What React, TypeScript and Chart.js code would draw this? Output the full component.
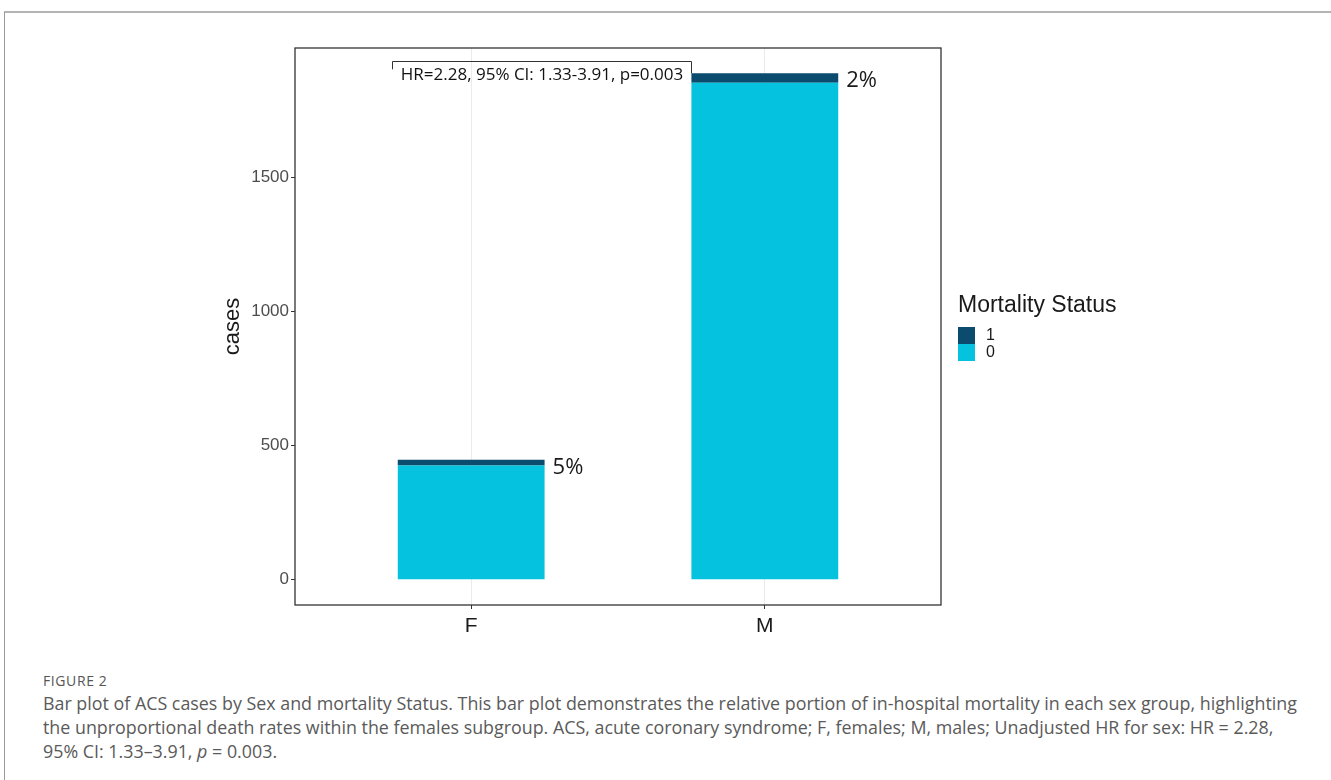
import React, { useEffect, useRef } from 'react';
import { Chart, registerables } from 'chart.js';

Chart.register(...registerables);

// Case counts by sex, split by in-hospital mortality status
const sexGroups = ['F', 'M'];
const aliveCases = [426, 1855]; // Mortality Status = 0
const deathCases = [22, 35]; // Mortality Status = 1
const statusNames = ['0', '1'];
const statusColors = ['#05C3DE', '#0A4B6E'];
const legendOrder = [1, 0];
const yTickValues = [0, 500, 1000, 1500];

// Significance bracket between the two groups
const hrText = 'HR=2.28, 95% CI: 1.33-3.91, p=0.003';
const bracketSpan = [0.73, 1.75];
const bracketLevel = 1935;
const bracketLeftDrop = 1905;

const totals = sexGroups.map((_, i) => aliveCases[i] + deathCases[i]);
const maxTotal = Math.max(...totals);

const SANS = '"Liberation Sans", Arial, sans-serif';
const OPEN = '"Open Sans", "Noto Sans", sans-serif';

const overlayPlugin = {
  id: 'overlay',
  afterDatasetsDraw(chart: any) {
    const { ctx, chartArea: a, scales } = chart;
    const x = scales.x;
    const y = scales.y;
    ctx.save();

    // percentage of deaths next to each bar
    const topMeta = chart.getDatasetMeta(1);
    ctx.font = `22px ${OPEN}`;
    ctx.fillStyle = '#1a1a1a';
    ctx.textAlign = 'left';
    ctx.textBaseline = 'alphabetic';
    topMeta.data.forEach((bar: any, i: number) => {
      const pct = Math.round((deathCases[i] / totals[i]) * 100) + '%';
      ctx.fillText(pct, bar.x + bar.width / 2 + 8, bar.y + 14);
    });

    // bracket with hazard ratio text
    const bx0 = Math.round(x.getPixelForValue(bracketSpan[0])) + 0.5;
    const bx1 = Math.round(x.getPixelForValue(bracketSpan[1])) + 0.5;
    const by = Math.round(y.getPixelForValue(bracketLevel)) + 0.5;
    ctx.strokeStyle = '#333333';
    ctx.lineWidth = 1;
    ctx.beginPath();
    ctx.moveTo(bx0, y.getPixelForValue(bracketLeftDrop));
    ctx.lineTo(bx0, by);
    ctx.lineTo(bx1, by);
    ctx.lineTo(bx1, y.getPixelForValue(totals[1]));
    ctx.stroke();
    ctx.font = `17px ${OPEN}`;
    ctx.fillStyle = '#111111';
    ctx.textAlign = 'center';
    ctx.fillText(hrText, (bx0 + bx1) / 2, by + 18);

    // panel border
    ctx.strokeStyle = '#333333';
    ctx.lineWidth = 1.3;
    ctx.strokeRect(a.left, a.top, a.right - a.left, a.bottom - a.top);

    // y axis title
    ctx.save();
    ctx.translate(a.left - 62, (a.top + a.bottom) / 2);
    ctx.rotate(-Math.PI / 2);
    ctx.font = `22px ${SANS}`;
    ctx.fillStyle = '#1a1a1a';
    ctx.textAlign = 'center';
    ctx.textBaseline = 'middle';
    ctx.fillText('cases', 0, 0);
    ctx.restore();

    // legend
    const lx = a.right + 17;
    const ly = a.top + 264;
    ctx.font = `23px ${SANS}`;
    ctx.fillStyle = '#1a1a1a';
    ctx.textAlign = 'left';
    ctx.textBaseline = 'alphabetic';
    ctx.fillText('Mortality Status', lx, ly);
    ctx.font = `16px ${SANS}`;
    ctx.textBaseline = 'middle';
    legendOrder.forEach((idx, k) => {
      const ky = ly + 15 + k * 17;
      ctx.fillStyle = statusColors[idx];
      ctx.fillRect(lx, ky, 17, 17);
      ctx.fillStyle = '#1a1a1a';
      ctx.fillText(statusNames[idx], lx + 28, ky + 9);
    });

    ctx.restore();
  },
};

function BarChart() {
  const ref = useRef<HTMLCanvasElement | null>(null);

  useEffect(() => {
    if (!ref.current) return;
    const chart = new Chart(ref.current, {
      type: 'bar',
      data: {
        datasets: statusNames.map((name, s) => ({
          label: name,
          data: sexGroups.map((_, i) => ({
            x: i + 1,
            y: s === 0 ? aliveCases[i] : deathCases[i],
          })),
          backgroundColor: statusColors[s],
          borderWidth: 0,
          categoryPercentage: 1,
          barPercentage: 0.5,
        })),
      },
      options: {
        responsive: false,
        animation: false,
        layout: { padding: { left: 180, right: 390, top: 48, bottom: 15 } },
        plugins: {
          legend: { display: false },
          tooltip: { enabled: false },
        },
        scales: {
          x: {
            type: 'linear',
            stacked: true,
            offset: false,
            min: 1 - 0.6,
            max: sexGroups.length + 0.6,
            afterBuildTicks: (scale: any) => {
              scale.ticks = sexGroups.map((_, i) => ({ value: i + 1 }));
            },
            afterFit: (scale: any) => {
              scale.height = 40;
            },
            ticks: {
              callback: (v: any) => sexGroups[Math.round(Number(v)) - 1] ?? '',
              font: { family: SANS, size: 21 },
              color: '#1a1a1a',
              padding: 5,
              maxRotation: 0,
              autoSkip: false,
            },
            grid: {
              offset: false,
              color: '#ebebeb',
              lineWidth: 1,
              drawTicks: true,
              tickLength: 4,
              tickColor: '#333333',
            },
            border: { display: false },
          },
          y: {
            type: 'linear',
            stacked: true,
            min: -0.05 * maxTotal,
            max: 1.05 * maxTotal,
            afterBuildTicks: (scale: any) => {
              scale.ticks = yTickValues.map((v) => ({ value: v }));
            },
            afterFit: (scale: any) => {
              scale.width = 115;
            },
            ticks: {
              callback: (v: any) => String(v),
              font: { family: SANS, size: 17 },
              color: '#4d4d4d',
              padding: 2,
            },
            grid: {
              drawOnChartArea: false,
              drawTicks: true,
              tickLength: 4,
              tickColor: '#333333',
            },
            border: { display: false },
          },
        },
      },
      plugins: [overlayPlugin],
    } as any);
    return () => chart.destroy();
  }, []);

  return (
    <canvas
      ref={ref}
      width={1331}
      height={660}
      style={{ position: 'absolute', left: 0, top: 0, width: 1331, height: 660 }}
    />
  );
}

export default function App() {
  const captionLine: React.CSSProperties = {
    position: 'absolute',
    left: 43,
    whiteSpace: 'nowrap',
    fontFamily: OPEN,
    fontSize: 17.85,
    lineHeight: '24px',
    color: '#5a5a5a',
  };
  return (
    <div
      style={{
        position: 'absolute',
        left: 0,
        top: 0,
        width: 1331,
        height: 780,
        background: '#ffffff',
        overflow: 'hidden',
      }}
    >
      <div style={{ position: 'absolute', left: 4, top: 11, width: 1327, height: 2, background: '#b3b3b3' }} />
      <div style={{ position: 'absolute', left: 4, top: 12, width: 1, height: 768, background: '#9a9a9a' }} />
      <BarChart />
      <div
        style={{
          position: 'absolute',
          left: 43,
          top: 671,
          fontFamily: OPEN,
          fontSize: 14,
          color: '#555555',
          letterSpacing: 0.6,
        }}
      >
        FIGURE 2
      </div>
      <div style={{ ...captionLine, top: 691 }}>
        Bar plot of ACS cases by Sex and mortality Status. This bar plot demonstrates the relative portion of in-hospital mortality in each sex group, highlighting
      </div>
      <div style={{ ...captionLine, top: 715 }}>
        the unproportional death rates within the females subgroup. ACS, acute coronary syndrome; F, females; M, males; Unadjusted HR for sex: HR = 2.28,
      </div>
      <div style={{ ...captionLine, top: 739 }}>
        95% CI: 1.33–3.91, <i>p</i> = 0.003.
      </div>
    </div>
  );
}
